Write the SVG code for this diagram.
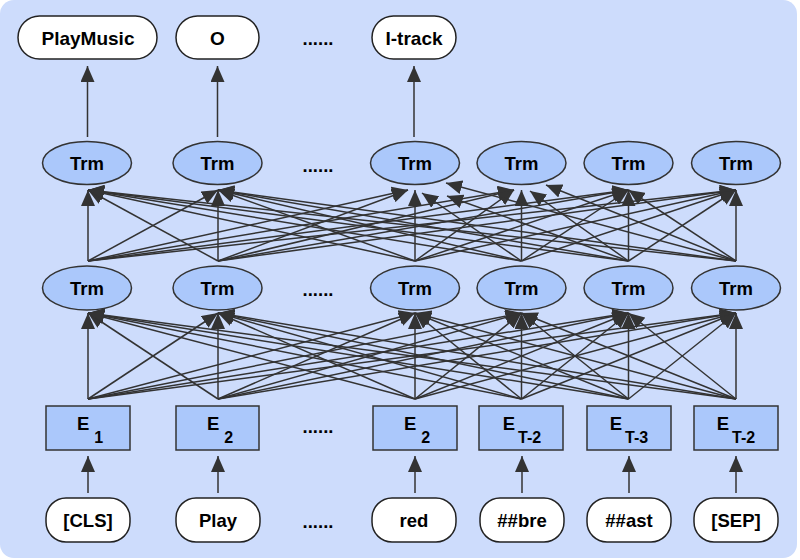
<svg xmlns="http://www.w3.org/2000/svg" width="800" height="560" viewBox="0 0 800 560">
<defs>
<marker id="ah" markerUnits="userSpaceOnUse" markerWidth="16" markerHeight="14" refX="16" refY="7" orient="auto">
<path d="M0,0 L16,7 L0,14 z" fill="#333"/>
</marker>
<style>
.bg{fill:#cddcfc}
.ell{fill:#abc8fb;stroke:#333;stroke-width:1.5}
.box{fill:#abc8fb;stroke:#333;stroke-width:1.5}
.tok{fill:#fff;stroke:#222;stroke-width:1.5}
.t{font-family:"Liberation Sans",Arial,sans-serif;font-weight:bold;font-size:18.5px;fill:#000;text-anchor:middle}
.big{font-size:19px}
.sub{font-size:16px}
.e{stroke:#333;stroke-width:1.5;fill:none;marker-end:url(#ah)}
</style>
</defs>
<rect class="bg" x="0" y="0" width="797" height="558" rx="14"/>

<g id="connectors">
<line class="e" x1="87.5" y1="137" x2="87.5" y2="66"/>
<line class="e" x1="217.5" y1="137" x2="217.5" y2="66"/>
<line class="e" x1="414" y1="137" x2="414" y2="66"/>
<line class="e" x1="88" y1="493" x2="88" y2="456"/>
<line class="e" x1="218" y1="493" x2="218" y2="456"/>
<line class="e" x1="415" y1="493" x2="415" y2="456"/>
<line class="e" x1="522" y1="493" x2="522" y2="456"/>
<line class="e" x1="629" y1="493" x2="629" y2="456"/>
<line class="e" x1="736" y1="493" x2="736" y2="456"/>
<g id="layer1-edges">
<line class="e" x1="88" y1="399" x2="88" y2="313"/>
<line class="e" x1="88" y1="399" x2="218" y2="313"/>
<line class="e" x1="88" y1="399" x2="415" y2="313"/>
<line class="e" x1="88" y1="399" x2="521.5" y2="313"/>
<line class="e" x1="88" y1="399" x2="628.5" y2="313"/>
<line class="e" x1="88" y1="399" x2="736" y2="313"/>
<line class="e" x1="218" y1="399" x2="88" y2="313"/>
<line class="e" x1="218" y1="399" x2="218" y2="313"/>
<line class="e" x1="218" y1="399" x2="415" y2="313"/>
<line class="e" x1="218" y1="399" x2="521.5" y2="313"/>
<line class="e" x1="218" y1="399" x2="628.5" y2="313"/>
<line class="e" x1="218" y1="399" x2="736" y2="313"/>
<line class="e" x1="415" y1="399" x2="88" y2="313"/>
<line class="e" x1="415" y1="399" x2="218" y2="313"/>
<line class="e" x1="415" y1="399" x2="415" y2="313"/>
<line class="e" x1="415" y1="399" x2="521.5" y2="313"/>
<line class="e" x1="415" y1="399" x2="628.5" y2="313"/>
<line class="e" x1="415" y1="399" x2="736" y2="313"/>
<line class="e" x1="521.5" y1="399" x2="88" y2="313"/>
<line class="e" x1="521.5" y1="399" x2="218" y2="313"/>
<line class="e" x1="521.5" y1="399" x2="415" y2="313"/>
<line class="e" x1="521.5" y1="399" x2="521.5" y2="313"/>
<line class="e" x1="521.5" y1="399" x2="628.5" y2="313"/>
<line class="e" x1="521.5" y1="399" x2="736" y2="313"/>
<line class="e" x1="628.5" y1="399" x2="88" y2="313"/>
<line class="e" x1="628.5" y1="399" x2="218" y2="313"/>
<line class="e" x1="628.5" y1="399" x2="415" y2="313"/>
<line class="e" x1="628.5" y1="399" x2="521.5" y2="313"/>
<line class="e" x1="628.5" y1="399" x2="628.5" y2="313"/>
<line class="e" x1="628.5" y1="399" x2="736" y2="313"/>
<line class="e" x1="736" y1="399" x2="88" y2="313"/>
<line class="e" x1="736" y1="399" x2="218" y2="313"/>
<line class="e" x1="736" y1="399" x2="415" y2="313"/>
<line class="e" x1="736" y1="399" x2="521.5" y2="313"/>
<line class="e" x1="736" y1="399" x2="628.5" y2="313"/>
<line class="e" x1="736" y1="399" x2="736" y2="313"/>
</g>
<g id="layer2-edges">
<line class="e" x1="88" y1="261" x2="88" y2="190"/>
<line class="e" x1="88" y1="261" x2="218" y2="190"/>
<line class="e" x1="88" y1="261" x2="408" y2="190"/>
<line class="e" x1="88" y1="261" x2="514" y2="190"/>
<line class="e" x1="88" y1="261" x2="628.5" y2="190"/>
<line class="e" x1="88" y1="261" x2="736" y2="190"/>
<line class="e" x1="218" y1="261" x2="88" y2="190"/>
<line class="e" x1="218" y1="261" x2="218" y2="190"/>
<line class="e" x1="218" y1="261" x2="408" y2="190"/>
<line class="e" x1="218" y1="261" x2="514" y2="190"/>
<line class="e" x1="218" y1="261" x2="628.5" y2="190"/>
<line class="e" x1="218" y1="261" x2="736" y2="190"/>
<line class="e" x1="415" y1="261" x2="88" y2="190"/>
<line class="e" x1="415" y1="261" x2="218" y2="190"/>
<line class="e" x1="415" y1="261" x2="415" y2="190"/>
<line class="e" x1="415" y1="261" x2="514" y2="190"/>
<line class="e" x1="415" y1="261" x2="628.5" y2="190"/>
<line class="e" x1="415" y1="261" x2="736" y2="190"/>
<line class="e" x1="521.5" y1="261" x2="88" y2="190"/>
<line class="e" x1="521.5" y1="261" x2="218" y2="190"/>
<line class="e" x1="521.5" y1="261" x2="422" y2="193"/>
<line class="e" x1="521.5" y1="261" x2="521.5" y2="190"/>
<line class="e" x1="521.5" y1="261" x2="628.5" y2="190"/>
<line class="e" x1="521.5" y1="261" x2="736" y2="190"/>
<line class="e" x1="628.5" y1="261" x2="88" y2="190"/>
<line class="e" x1="628.5" y1="261" x2="218" y2="190"/>
<line class="e" x1="628.5" y1="261" x2="447" y2="196"/>
<line class="e" x1="628.5" y1="261" x2="530" y2="191"/>
<line class="e" x1="628.5" y1="261" x2="628.5" y2="190"/>
<line class="e" x1="628.5" y1="261" x2="736" y2="190"/>
<line class="e" x1="736" y1="261" x2="88" y2="190"/>
<line class="e" x1="736" y1="261" x2="218" y2="190"/>
<line class="e" x1="736" y1="261" x2="446" y2="183"/>
<line class="e" x1="736" y1="261" x2="546" y2="185"/>
<line class="e" x1="736" y1="261" x2="628.5" y2="190"/>
<line class="e" x1="736" y1="261" x2="736" y2="190"/>
</g>
</g>

<g id="out1"><rect class="tok" x="18" y="16" width="139" height="43" rx="21.5"/><text class="t big" x="88" y="45">PlayMusic</text></g>
<g id="out2"><rect class="tok" x="176" y="16" width="83" height="43" rx="21.5"/><text class="t big" x="217.5" y="45">O</text></g>
<g id="out3"><rect class="tok" x="372" y="16" width="84" height="43" rx="21.5"/><text class="t big" x="414" y="45">I-track</text></g>
<text class="t" x="318" y="45">......</text>

<g id="up1"><ellipse class="ell" cx="87" cy="163" rx="44.5" ry="21.5"/><text class="t" x="87" y="170">Trm</text></g>
<g id="up2"><ellipse class="ell" cx="217.5" cy="163" rx="44.5" ry="21.5"/><text class="t" x="217.5" y="170">Trm</text></g>
<g id="up3"><ellipse class="ell" cx="415" cy="163" rx="44.5" ry="21.5"/><text class="t" x="415" y="170">Trm</text></g>
<g id="up4"><ellipse class="ell" cx="521.5" cy="163" rx="44.5" ry="21.5"/><text class="t" x="521.5" y="170">Trm</text></g>
<g id="up5"><ellipse class="ell" cx="628.5" cy="163" rx="44.5" ry="21.5"/><text class="t" x="628.5" y="170">Trm</text></g>
<g id="up6"><ellipse class="ell" cx="736" cy="163" rx="44.5" ry="21.5"/><text class="t" x="736" y="170">Trm</text></g>
<text class="t" x="318" y="172">......</text>

<g id="low1"><ellipse class="ell" cx="87" cy="288" rx="44.5" ry="22"/><text class="t" x="87" y="295">Trm</text></g>
<g id="low2"><ellipse class="ell" cx="217.5" cy="288" rx="44.5" ry="22"/><text class="t" x="217.5" y="295">Trm</text></g>
<g id="low3"><ellipse class="ell" cx="415" cy="288" rx="44.5" ry="22"/><text class="t" x="415" y="295">Trm</text></g>
<g id="low4"><ellipse class="ell" cx="521.5" cy="288" rx="44.5" ry="22"/><text class="t" x="521.5" y="295">Trm</text></g>
<g id="low5"><ellipse class="ell" cx="628.5" cy="288" rx="44.5" ry="22"/><text class="t" x="628.5" y="295">Trm</text></g>
<g id="low6"><ellipse class="ell" cx="736" cy="288" rx="44.5" ry="22"/><text class="t" x="736" y="295">Trm</text></g>
<text class="t" x="318" y="296">......</text>

<g id="emb1"><rect class="box" x="46" y="406" width="84" height="44"/><text class="t" x="90" y="430">E<tspan class="sub" dx="5" dy="13">1</tspan></text></g>
<g id="emb2"><rect class="box" x="176" y="406" width="83" height="44"/><text class="t" x="220" y="430">E<tspan class="sub" dx="5" dy="13">2</tspan></text></g>
<g id="emb3"><rect class="box" x="373" y="406" width="84" height="44"/><text class="t" x="417" y="430">E<tspan class="sub" dx="5" dy="13">2</tspan></text></g>
<g id="emb4"><rect class="box" x="479" y="406" width="84" height="44"/><text class="t" x="522" y="430">E<tspan class="sub" dx="3" dy="13">T-2</tspan></text></g>
<g id="emb5"><rect class="box" x="587" y="406" width="84" height="44"/><text class="t" x="629" y="430">E<tspan class="sub" dx="3" dy="13">T-3</tspan></text></g>
<g id="emb6"><rect class="box" x="694" y="406" width="84" height="44"/><text class="t" x="736" y="430">E<tspan class="sub" dx="3" dy="13">T-2</tspan></text></g>
<text class="t" x="318" y="433">......</text>

<g id="tok1"><rect class="tok" x="46" y="498" width="84" height="44" rx="20"/><text class="t" x="88" y="527">[CLS]</text></g>
<g id="tok2"><rect class="tok" x="176" y="498" width="84" height="44" rx="20"/><text class="t" x="218" y="527">Play</text></g>
<g id="tok3"><rect class="tok" x="372" y="498" width="84" height="44" rx="20"/><text class="t" x="414" y="527">red</text></g>
<g id="tok4"><rect class="tok" x="480" y="498" width="84" height="44" rx="20"/><text class="t" x="522" y="527">##bre</text></g>
<g id="tok5"><rect class="tok" x="587" y="498" width="84" height="44" rx="20"/><text class="t" x="629" y="527">##ast</text></g>
<g id="tok6"><rect class="tok" x="694" y="498" width="84" height="44" rx="20"/><text class="t" x="736" y="527">[SEP]</text></g>
<text class="t" x="318" y="528">......</text>
</svg>
